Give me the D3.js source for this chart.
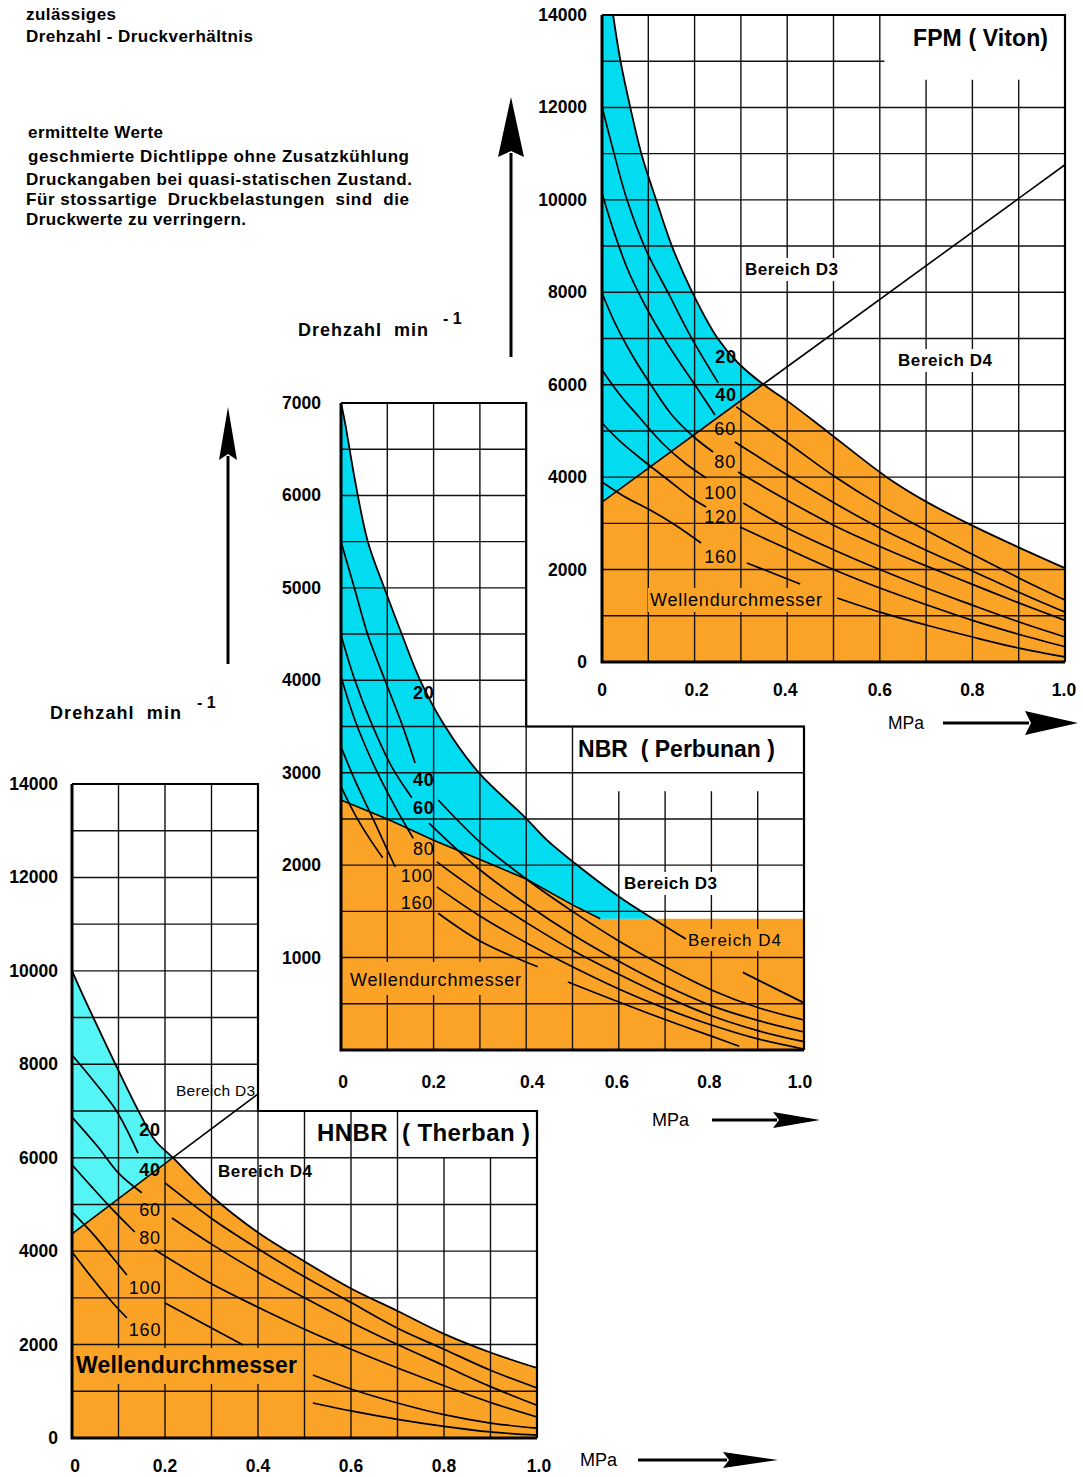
<!DOCTYPE html>
<html>
<head>
<meta charset="utf-8">
<script src="https://cdn.jsdelivr.net/npm/d3@7"></script>
<style>
body { margin: 0; background: #fff; }
text { font-family: "Liberation Sans", Arial, Helvetica, sans-serif; fill: #000; }
</style>
</head>
<body>
<svg id="chart"></svg>
<script>
var ORANGE = "#fba327";
var CYAN = "#02dcf0";
var CYAN_LIGHT = "#56f5f5";

var pressureTicks = [0, 0.2, 0.4, 0.6, 0.8, 1.0];
var pressureLabels = ["0", "0.2", "0.4", "0.6", "0.8", "1.0"];

// ---- FPM (Viton) ----
var fpmSpeedTicks = [0, 2000, 4000, 6000, 8000, 10000, 12000, 14000];
var fpmDiameters = [20, 40, 60, 80, 100, 120, 160];
var fpmEnvelope = [[0.024,14000],[0.04,13000],[0.06,12050],[0.085,11000],[0.117,10000],[0.151,9000],[0.195,8000],[0.25,7000],[0.294,6470],[0.348,6010],[0.40,5650],[0.485,5000],[0.615,4000],[0.70,3470],[0.79,3000],[0.9,2480],[1.0,2030]];
var fpmBoundary = [[0,3460],[0.348,6010],[1.0,10760]];
var fpmCurves = [
  [[0,12010],[0.028,10930],[0.054,10000],[0.095,8915],[0.143,7985],[0.192,7035],[0.251,6040],null,[0.29,5520],[0.4,4750],[0.5,4030],[0.6,3400],[0.7,2850],[0.8,2330],[0.9,1820],[1.0,1340]],
  [[0,10150],[0.026,9305],[0.056,8483],[0.095,7682],[0.143,6860],[0.201,5994],[0.244,5345],null,[0.287,4760],[0.4,4050],[0.5,3450],[0.6,2900],[0.7,2420],[0.8,1970],[0.9,1510],[1.0,1080]],
  [[0,7985],[0.03,7293],[0.065,6644],[0.106,5994],[0.151,5345],[0.201,4847],[0.24,4544],null,[0.294,4110],[0.4,3500],[0.5,2960],[0.6,2500],[0.7,2080],[0.8,1680],[0.9,1280],[1.0,900]],
  [[0,6319],[0.039,5778],[0.082,5280],[0.13,4739],[0.179,4306],[0.225,3982],null,[0.305,3440],[0.4,2900],[0.5,2430],[0.6,2000],[0.7,1600],[0.8,1230],[0.9,870],[1.0,540]],
  [[0,5172],[0.043,4739],[0.093,4328],[0.143,3938],[0.19,3571],[0.225,3354],null,[0.298,2921],[0.4,2450],[0.5,2000],[0.6,1600],[0.7,1240],[0.8,900],[0.9,600],[1.0,330]],
  [[0,3895],[0.05,3571],[0.104,3289],[0.158,2965],[0.214,2575],null,[0.313,2142],[0.428,1688],null,[0.508,1385],[0.6,1080],[0.7,800],[0.8,540],[0.9,300],[1.0,110]]
];
var fpmLabelAt = [[0.268,6600],[0.268,5780],[0.266,5040],[0.266,4330],[0.256,3660],[0.256,3140],[0.256,2270]];

// ---- NBR (Perbunan) ----
var nbrSpeedTicks = [1000, 2000, 3000, 4000, 5000, 6000, 7000];
var nbrDiameters = [20, 40, 60, 80, 100, 160];
var nbrEnvelope = [[0,7000],[0.009,6780],[0.03,6170],[0.058,5500],[0.095,4980],[0.132,4490],[0.171,4000],[0.225,3500],[0.296,3010],[0.397,2520],[0.445,2270],[0.505,2020],[0.603,1650],[0.674,1420],[0.745,1200],null,[0.868,840],[1.0,510]];
var nbrBoundary = [[0,2705],[0.1,2500],[0.2,2270],[0.3,2060],[0.4,1850],[0.5,1570],[0.56,1420],[1.0,1420]];
var nbrCurves = [
  [[0,5500],[0.03,4980],[0.058,4490],[0.095,4000],[0.132,3520],[0.16,3106],null,[0.21,2705],[0.3,2250],[0.4,1850],[0.5,1500],[0.6,1180],[0.7,900],[0.8,650],[0.9,460],[1.0,325]],
  [[0,4490],[0.03,4000],[0.067,3520],[0.11,3060],[0.153,2730],null,[0.19,2455],[0.3,1950],[0.4,1580],[0.5,1250],[0.6,960],[0.7,700],[0.8,480],[0.9,320],[1.0,195]],
  [[0,4040],[0.03,3570],[0.073,3060],[0.117,2630],[0.156,2290],null,[0.207,2035],[0.3,1700],[0.4,1380],[0.5,1080],[0.6,820],[0.7,580],[0.8,370],[0.9,210],[1.0,90]],
  [[0,3280],[0.03,2920],[0.073,2460],[0.117,1980],null,[0.207,1765],[0.3,1450],[0.4,1160],[0.5,900],[0.6,660],[0.7,450],[0.8,270],[0.9,120],[1.0,10]],
  [[0,2850],[0.03,2550],[0.06,2300],[0.09,2080],null,[0.21,1480],[0.3,1180],[0.425,900],null,[0.49,735],[0.6,520],[0.7,330],[0.8,150],[0.86,40]]
];
var nbrLabelAt = [[0.179,3860],[0.179,2920],[0.179,2620],[0.179,2175],[0.164,1880],[0.164,1590]];

// ---- HNBR (Therban) ----
var hnbrSpeedTicks = [0, 2000, 4000, 6000, 8000, 10000, 12000, 14000];
var hnbrDiameters = [20, 40, 60, 80, 100, 160];
var hnbrEnvelope = [[0,10000],[0.028,9380],[0.092,8030],[0.142,7020],[0.178,6380],[0.217,6000],[0.3,5180],[0.4,4400],[0.5,3780],[0.6,3200],[0.7,2720],[0.8,2230],[0.9,1830],[1.0,1500]];
var hnbrBoundary = [[0,4370],[0.217,6000],[0.398,7350]];
var hnbrCurves = [
  [[0,8200],[0.05,7600],[0.097,6980],[0.142,6100],null,[0.2,5460],[0.3,4700],[0.4,4050],[0.5,3450],[0.6,2900],[0.7,2350],[0.8,1900],[0.9,1450],[1.0,1070]],
  [[0,6870],[0.056,6230],[0.1,5670],[0.15,5250],null,[0.215,4710],[0.3,4150],[0.4,3550],[0.5,3000],[0.6,2480],[0.7,2000],[0.8,1550],[0.9,1100],[1.0,700]],
  [[0,5850],[0.043,5370],[0.092,4840],[0.135,4410],null,[0.178,4030],[0.3,3300],[0.4,2800],[0.5,2330],[0.6,1900],[0.7,1500],[0.8,1120],[0.9,760],[1.0,450]],
  [[0,4840],[0.043,4390],[0.086,3880],[0.118,3490],null,[0.2,2890],[0.368,1990],null,[0.518,1350],[0.6,1050],[0.7,750],[0.8,500],[0.9,320],[1.0,210]],
  [[0,3980],[0.043,3430],[0.086,2910],[0.118,2570],null,[0.518,750],[0.6,580],[0.7,400],[0.8,250],[0.9,130],[1.0,60]]
];
var hnbrLabelAt = [[0.168,6600],[0.168,5740],[0.168,4880],[0.168,4280],[0.157,3210],[0.157,2310]];

var svg = d3.select("#chart").attr("width", 1083).attr("height", 1477);

function drawPanel(cfg) {
  var x = d3.scaleLinear().domain([0, 1]).range([cfg.x0, cfg.x1]);
  var y = d3.scaleLinear().domain([0, cfg.nMax]).range([cfg.yBottom, cfg.yTop]);
  var g = svg.append("g");

  var curveLine = d3.line()
    .defined(function(d) { return d != null; })
    .x(function(d) { return x(d[0]); })
    .y(function(d) { return y(d[1]); })
    .curve(d3.curveCatmullRom.alpha(0.5));
  var straight = d3.line()
    .x(function(d) { return x(d[0]); })
    .y(function(d) { return y(d[1]); });

  var env = cfg.envelope.filter(function(d) { return d != null; });
  var envLeft = env.filter(function(d) { return d[0] <= cfg.split; });
  var envRight = env.filter(function(d) { return d[0] >= cfg.split; });
  var bLeft = cfg.boundary.filter(function(d) { return d[0] < cfg.split; });

  // D4 area (orange)
  var orangePath;
  if (cfg.flatTop) {
    orangePath = straight([[0, 0]].concat(cfg.boundary, [[1, 0]])) + "Z";
  } else {
    orangePath = straight([[0, 0]].concat(bLeft)) + curveLine(envRight).replace(/^M/, "L") +
      "L" + x(1) + "," + y(0) + "Z";
  }
  g.append("path").attr("d", orangePath).attr("fill", ORANGE);

  // D3 area (cyan)
  var cyanPath = "M" + x(0) + "," + y(envLeft[0][1]) + curveLine(envLeft).replace(/^M/, "L") +
    straight(bLeft.slice().reverse()).replace(/^M/, "L") + "Z";
  g.append("path").attr("d", cyanPath).attr("fill", cfg.cyan);

  // grid
  d3.range(1, 10).forEach(function(i) {
    var p = i / 10, s = cfg.vSpan(p);
    g.append("line").attr("x1", x(p)).attr("x2", x(p)).attr("y1", y(s[0])).attr("y2", y(s[1]))
      .attr("stroke", "#111").attr("stroke-width", 1.4);
  });
  d3.range(cfg.gridStep, cfg.nMax, cfg.gridStep).forEach(function(n) {
    var s = cfg.hSpan(n);
    g.append("line").attr("x1", x(s[0])).attr("x2", x(s[1])).attr("y1", y(n)).attr("y2", y(n))
      .attr("stroke", "#111").attr("stroke-width", 1.4);
  });

  // label backgrounds that break the grid
  cfg.boxes.forEach(function(b) {
    g.append("rect").attr("x", b[0]).attr("y", b[1]).attr("width", b[2]).attr("height", b[3]).attr("fill", b[4]);
  });

  // D3/D4 boundary line
  g.append("path").attr("d", straight(cfg.boundary.filter(function(d) { return d[0] <= cfg.boundaryLineTo; })))
    .attr("fill", "none").attr("stroke", "#000").attr("stroke-width", 1.6);

  // limit curve (smallest diameter) and diameter curves
  g.append("path").attr("d", curveLine(cfg.envelope)).attr("fill", "none")
    .attr("stroke", "#000").attr("stroke-width", 1.8);
  cfg.curves.forEach(function(c) {
    g.append("path").attr("d", curveLine(c)).attr("fill", "none")
      .attr("stroke", "#000").attr("stroke-width", 1.7);
  });

  // frame
  g.append("path").attr("d", straight(cfg.frame)).attr("fill", "none")
    .attr("stroke", "#000").attr("stroke-width", 2.2);
  g.append("path").attr("d", straight([[0, cfg.nMax], [0, 0], [1, 0]])).attr("fill", "none")
    .attr("stroke", "#000").attr("stroke-width", 3);

  // tick labels
  cfg.speedTicks.forEach(function(n) {
    g.append("text").attr("x", cfg.yLabelX).attr("y", y(n)).attr("text-anchor", "end")
      .attr("dominant-baseline", "central").attr("font-size", 17.5).attr("font-weight", "bold").text(n);
  });
  pressureTicks.forEach(function(p, i) {
    g.append("text").attr("x", x(p) + (cfg.xLabelShift[i] || 0)).attr("y", cfg.xLabelY)
      .attr("text-anchor", "middle").attr("dominant-baseline", "central")
      .attr("font-size", 17.5).attr("font-weight", "bold").text(pressureLabels[i]);
  });

  // diameter labels
  cfg.diameters.forEach(function(d, i) {
    g.append("text").attr("x", x(cfg.labelAt[i][0])).attr("y", y(cfg.labelAt[i][1]))
      .attr("text-anchor", "middle").attr("dominant-baseline", "central")
      .attr("font-size", 18).attr("letter-spacing", 0.8)
      .attr("font-weight", cfg.boldLabels.indexOf(d) >= 0 ? "bold" : "normal").text(d);
  });

  return {x: x, y: y, g: g};
}

var fpm = drawPanel({
  x0: 602, x1: 1065, yTop: 15, yBottom: 662, nMax: 14000, gridStep: 1000,
  cyan: CYAN, envelope: fpmEnvelope, boundary: fpmBoundary, split: 0.348, flatTop: false, boundaryLineTo: 1,
  curves: fpmCurves, diameters: fpmDiameters, labelAt: fpmLabelAt, boldLabels: [20, 40],
  speedTicks: fpmSpeedTicks, yLabelX: 587, xLabelY: 690, xLabelShift: [0, 2, -2, 0, 0, -1],
  vSpan: function(p) { return (p > 0.65) ? [0, 12600] : [0, 14000]; },
  hSpan: function(n) { return n == 13000 ? [0, 0.61] : [0, 1]; },
  frame: [[0, 14000], [1, 14000], [1, 0]],
  boxes: [[743, 258, 98, 23, "#fff"], [896, 349, 99, 23, "#fff"], [648, 588, 178, 24, ORANGE]]
});

var nbr = drawPanel({
  x0: 341, x1: 804, yTop: 403, yBottom: 1050, nMax: 7000, gridStep: 500,
  cyan: CYAN, envelope: nbrEnvelope, boundary: nbrBoundary, split: 0.674, flatTop: true, boundaryLineTo: 0.56,
  curves: nbrCurves, diameters: nbrDiameters, labelAt: nbrLabelAt, boldLabels: [20, 40, 60],
  speedTicks: nbrSpeedTicks, yLabelX: 321, xLabelY: 1082, xLabelShift: [2, 0, 6, -2, -2, -4],
  vSpan: function(p) { return p <= 0.45 ? [0, 7000] : (p > 0.55 ? [0, 2800] : [0, 3500]); },
  hSpan: function(n) { return n > 3500 ? [0, 0.4] : [0, 1]; },
  frame: [[0, 7000], [0.4, 7000], [0.4, 3500], [1, 3500], [1, 0]],
  boxes: [[622, 872, 98, 23, "#fff"], [348, 962, 177, 33, ORANGE], [686, 929, 98, 22, ORANGE]]
});

var hnbr = drawPanel({
  x0: 72, x1: 537, yTop: 784, yBottom: 1438, nMax: 14000, gridStep: 1000,
  cyan: CYAN_LIGHT, envelope: hnbrEnvelope, boundary: hnbrBoundary, split: 0.217, flatTop: false, boundaryLineTo: 1,
  curves: hnbrCurves, diameters: hnbrDiameters, labelAt: hnbrLabelAt, boldLabels: [20, 40],
  speedTicks: hnbrSpeedTicks, yLabelX: 58, xLabelY: 1466, xLabelShift: [3, 0, 0, 0, 0, 2],
  vSpan: function(p) { return p <= 0.45 ? [0, 14000] : (p > 0.75 ? [0, 6000] : [0, 7000]); },
  hSpan: function(n) { return n > 7000 ? [0, 0.4] : [0, 1]; },
  frame: [[0, 14000], [0.4, 14000], [0.4, 7000], [1, 7000], [1, 0]],
  boxes: [[74, 1348, 228, 36, ORANGE]]
});

// titles and region names
function label(txt, x, y, size, weight, len) {
  var t = svg.append("text").attr("x", x).attr("y", y).attr("dominant-baseline", "central")
    .attr("font-size", size).attr("font-weight", weight).style("white-space", "pre").text(txt);
  if (len) t.attr("textLength", len).attr("lengthAdjust", "spacing");
  return t;
}
label("FPM ( Viton)", 913, 38, 23, "bold", 135);
label("NBR  ( Perbunan )", 578, 749, 23, "bold", 197);
label("HNBR  ( Therban )", 317, 1132, 24, "bold", 213);

label("Bereich D3", 745, 269, 17, "bold", 93);
label("Bereich D4", 898, 360, 17, "bold", 94);
label("Bereich D3", 624, 883, 17, "bold", 93);
label("Bereich D4", 688, 940, 17, "normal", 93);
label("Bereich D3", 176, 1090, 15.5, "normal", 79);
label("Bereich D4", 218, 1171, 17, "bold", 94);

label("Wellendurchmesser", 650, 600, 18, "normal", 172);
label("Wellendurchmesser", 350, 980, 18, "normal", 171);
label("Wellendurchmesser", 76, 1365, 23, "bold", 221);

// notes top left
label("zulässiges", 26, 14, 17, "bold", 90);
label("Drehzahl - Druckverhältnis", 26, 36, 17, "bold", 227);
label("ermittelte Werte", 28, 132, 17, "bold", 135);
label("geschmierte Dichtlippe ohne Zusatzkühlung", 28, 156, 17, "bold", 381);
label("Druckangaben bei quasi-statischen Zustand.", 26, 179, 17, "bold", 386);
label("Für stossartige  Druckbelastungen  sind  die", 26, 199, 17, "bold", 383);
label("Druckwerte zu verringern.", 26, 219, 17, "bold", 220);

// axis names
label("Drehzahl  min", 298, 330, 18, "bold", 130);
label("- 1", 443, 318, 16, "bold");
label("Drehzahl  min", 50, 713, 18, "bold", 131);
label("- 1", 197, 702, 16, "bold");
label("MPa", 888, 723, 17.5, "normal");
label("MPa", 652, 1120, 18, "normal");
label("MPa", 580, 1460, 18, "normal");

// arrows
function arrow(x1, y1, x2, y2, headLen, headHalf) {
  var dx = x2 - x1, dy = y2 - y1, len = Math.sqrt(dx * dx + dy * dy);
  var ux = dx / len, uy = dy / len;
  var bx = x2 - ux * headLen, by = y2 - uy * headLen;
  svg.append("line").attr("x1", x1).attr("y1", y1).attr("x2", bx + ux * 4).attr("y2", by + uy * 4)
    .attr("stroke", "#000").attr("stroke-width", 3);
  svg.append("path")
    .attr("d", "M" + x2 + "," + y2 + "L" + (bx - uy * headHalf) + "," + (by + ux * headHalf) +
      "L" + (bx + ux * 6) + "," + (by + uy * 6) +
      "L" + (bx + uy * headHalf) + "," + (by - ux * headHalf) + "Z")
    .attr("fill", "#000");
}
arrow(511, 357, 511, 97, 60, 13);
arrow(228, 664, 228, 407, 53, 9);
arrow(943, 723, 1078, 723, 53, 12);
arrow(712, 1120, 820, 1120, 47, 8);
arrow(638, 1460, 778, 1460, 55, 8);
</script>
</body>
</html>
